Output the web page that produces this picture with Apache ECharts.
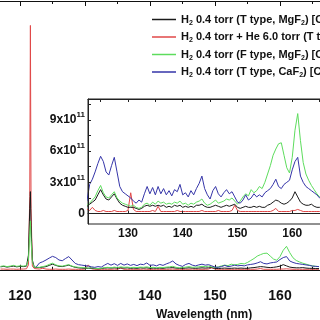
<!DOCTYPE html>
<html>
<head>
<meta charset="utf-8">
<script src="https://cdn.jsdelivr.net/npm/echarts@6/dist/echarts.min.js"></script>
<style>
  html, body { margin: 0; padding: 0; background: #fff; }
  #chart { width: 320px; height: 320px; }
</style>
</head>
<body>
<div id="chart"></div>
<script>
// wavelength grid (nm), extra points around the Lyman-alpha line
const wl = [117, 117.5, 118, 118.5, 119, 119.5, 120, 120.5, 121, 121.3, 121.5, 121.6, 121.7, 121.9, 122.2, 122.5,
  123, 123.5, 124, 124.5, 125, 125.5, 126, 126.5, 127, 127.5,
  128, 128.5, 129, 129.5, 130, 130.5, 131, 131.5, 132, 132.5,
  133, 133.5, 134, 134.5, 135, 135.5, 136, 136.5, 137, 137.5,
  138, 138.5, 139, 139.5, 140, 140.5, 141, 141.5, 142, 142.5,
  143, 143.5, 144, 144.5, 145, 145.5, 146, 146.5, 147, 147.5,
  148, 148.5, 149, 149.5, 150, 150.5, 151, 151.5, 152, 152.5,
  153, 153.5, 154, 154.5, 155, 155.5, 156, 156.5, 157, 157.5,
  158, 158.5, 159, 159.5, 160, 160.5, 161, 161.5, 162, 162.5,
  163, 163.5, 164, 164.5, 165, 165.5, 166]

// intensities in units of 1e11
const h2TMgF2 = [1.2, 1.4, 1.1, 1.3, 1.5, 1.2, 1.4, 1.3, 1.5, 6, 25, 32, 18, 4, 1.0, 0.7,
  0.9, 1.1, 1.3, 1.8, 2.3, 1.8, 1.4, 1.3, 1.6, 1.9,
  1.4, 1.0, 0.8, 0.7, 0.6, 0.6, 0.6, 0.5, 0.4, 0.5,
  0.7, 0.8, 0.7, 0.8, 0.7, 0.8, 0.7, 0.8, 0.6, 0.7,
  0.6, 0.8, 0.7, 0.8, 0.6, 0.7, 0.6, 0.7, 0.6, 0.8,
  0.8, 0.9, 0.7, 0.6, 0.6, 0.7, 0.8, 0.7, 0.6, 0.7,
  0.8, 0.7, 0.8, 0.9, 0.6, 0.5, 0.6, 0.7, 0.6, 0.6,
  0.7, 0.6, 0.7, 0.6, 0.6, 0.8, 0.9, 1.1, 1.3, 1.2,
  1.0, 0.9, 1.0, 1.2, 1.5, 2.1, 1.6, 1.1, 0.9, 0.8,
  0.8, 0.9, 0.7, 0.6, 0.6, 0.5, 0.5]
const h2He = [0.3, 0.3, 0.2, 0.3, 0.3, 0.2, 0.3, 0.3, 0.4, 2, 30, 100, 25, 1.5, 0.5, 0.4,
  0.3, 0.6, 0.3, 0.2, 0.2, 0.3, 0.2, 0.2, 0.2, 0.3,
  0.2, 0.2, 0.2, 0.2, 0.3, 2.0, 0.4, 0.2, 0.2, 0.2,
  0.2, 0.2, 0.2, 0.3, 0.2, 0.7, 0.2, 0.2, 0.2, 0.2,
  0.2, 0.2, 0.3, 0.2, 0.2, 0.2, 0.2, 0.2, 0.2, 0.2,
  0.2, 0.3, 0.2, 0.2, 0.2, 0.2, 0.2, 0.3, 0.2, 0.2,
  0.2, 0.2, 0.3, 0.8, 0.3, 0.2, 0.2, 0.2, 0.2, 0.2,
  0.2, 0.2, 0.2, 0.2, 0.2, 0.2, 0.2, 0.3, 0.5, 0.2,
  0.2, 0.2, 0.2, 0.2, 0.3, 0.3, 0.4, 0.3, 0.2, 0.2,
  0.2, 0.2, 0.2, 0.2, 0.2, 0.2, 0.2]
const h2FMgF2 = [1.4, 1.6, 1.3, 1.5, 1.8, 1.4, 1.6, 1.5, 1.7, 4, 15, 20, 12, 3, 1.1, 0.8,
  1.0, 1.3, 1.6, 2.2, 2.7, 2.0, 1.6, 1.5, 1.8, 2.1,
  1.5, 1.2, 1.0, 0.9, 0.8, 0.7, 0.8, 0.6, 0.5, 0.6,
  0.9, 1.0, 0.8, 1.1, 0.9, 1.2, 1.0, 1.1, 0.9, 1.0,
  0.9, 1.1, 1.0, 1.2, 0.9, 1.0, 0.8, 1.0, 0.9, 1.1,
  1.2, 1.4, 1.0, 0.8, 0.9, 1.1, 1.3, 1.0, 1.1, 1.2,
  1.4, 1.3, 1.5, 1.2, 0.9, 1.2, 1.6, 1.9, 1.7, 2.3,
  2.0, 2.2, 2.6, 2.4, 3.0, 3.8, 4.6, 5.6, 6.2, 6.7,
  6.8, 5.6, 4.4, 3.9, 5.4, 8.0, 9.6, 7.0, 4.9, 3.8,
  3.2, 2.7, 2.3, 1.9, 1.6, 1.4, 1.3]
const h2TCaF2 = [null, null, null, null, null, null, null, null, null, null, null, null, null, null, null, 1.2,
  2.8, 3.3, 4.0, 4.8, 5.5, 5.0, 4.0, 3.7, 4.6, 5.4,
  4.0, 2.6, 2.1, 1.9, 1.7, 1.5, 1.2, 1.0, 1.3, 1.1,
  1.9, 2.6, 1.9, 2.5, 1.8, 2.6, 1.9, 2.4, 1.8, 2.2,
  1.7, 2.3, 2.1, 2.8, 1.8, 2.0, 1.6, 2.2, 1.8, 2.4,
  2.9, 3.6, 2.4, 1.8, 1.4, 2.2, 2.6, 1.9, 1.6, 2.0,
  2.3, 1.9, 2.1, 1.6, 1.1, 1.0, 1.3, 1.8, 1.3, 1.5,
  1.9, 1.6, 1.8, 1.6, 2.0, 2.2, 2.4, 2.8, 3.3, 2.6,
  2.4, 2.8, 3.0, 3.2, 4.2, 5.0, 5.4, 3.6, 3.0, 2.6,
  2.4, 2.2, 2.0, 1.8, 1.5, 1.4, 1.3]

const names = [
  'H2 0.4 torr (T type, MgF2) [C-1]',
  'H2 0.4 torr + He 6.0 torr (T type, MgF2) [C-1]',
  'H2 0.4 torr (F type, MgF2) [C-1]',
  'H2 0.4 torr (T type, CaF2) [C-1]'
]
const legendText = [
  '{b|H}{s|2}{b| 0.4 torr (T type, MgF}{s|2}{b|) [C-1]}',
  '{b|H}{s|2}{b| 0.4 torr + He 6.0 torr (T type, MgF}{s|2}{b|)}',
  '{b|H}{s|2}{b| 0.4 torr (F type, MgF}{s|2}{b|) [C-1]}',
  '{b|H}{s|2}{b| 0.4 torr (T type, CaF}{s|2}{b|) [C-1]}'
]
const colors = ['#1a1a1a', '#e04848', '#5ddc5d', '#3535a8']
const values = [h2TMgF2, h2He, h2FMgF2, h2TCaF2]

const insetXTicks = [130, 140, 150, 160]
const insetYTicks = [0, 3, 6, 9]

const font = 'Liberation Sans, Arial, sans-serif'

function pairs(vals) {
  const out = []
  for (let i = 0; i < wl.length; i++) {
    if (vals[i] !== null) out.push([wl[i], vals[i]])
  }
  return out
}

const drawOrder = [1, 0, 2, 3]
const series = []
drawOrder.forEach(function(k) {
  series.push({
    name: names[k], type: 'line', xAxisIndex: 0, yAxisIndex: 0,
    data: pairs(values[k]), symbol: 'none', z: 2,
    lineStyle: { color: colors[k], width: 1 }, itemStyle: { color: colors[k] }
  })
})
drawOrder.forEach(function(k) {
  series.push({
    name: names[k], type: 'line', xAxisIndex: 2, yAxisIndex: 1,
    data: pairs(values[k]), symbol: 'none', z: 8,
    lineStyle: { color: colors[k], width: 1 }, itemStyle: { color: colors[k] }
  })
})

const chart = echarts.init(document.getElementById('chart'))
chart.setOption({
  animation: false,
  backgroundColor: '#fff',
  textStyle: { fontFamily: font },
  title: {
    text: 'Wavelength (nm)', left: 151, top: 304,
    textStyle: { fontFamily: font, fontSize: 12, fontWeight: 'bold', color: '#111' }
  },
  legend: {
    data: names, orient: 'vertical', left: 147, top: 9,
    icon: 'rect', itemWidth: 24, itemHeight: 1.5, itemGap: 5,
    formatter: function(name) { return legendText[names.indexOf(name)] },
    textStyle: {
      rich: {
        b: { fontFamily: font, fontSize: 11, fontWeight: 'bold', color: '#111', lineHeight: 14 },
        s: { fontFamily: font, fontSize: 7, fontWeight: 'bold', color: '#111', lineHeight: 7, verticalAlign: 'bottom' }
      }
    }
  },
  grid: [
    { left: -45, right: -25, top: 1, bottom: 38, outerBoundsMode: 'none', containLabel: false },
    { left: 88, right: -27, top: 99, bottom: 96, show: true, backgroundColor: '#fff',
      borderColor: '#222', borderWidth: 1, z: 5, outerBoundsMode: 'none', containLabel: false }
  ],
  xAxis: [
    { type: 'value', gridIndex: 0, min: 110, max: 170, interval: 10,
      axisLine: { lineStyle: { color: '#111', width: 1 } },
      axisTick: { inside: true, length: 5, lineStyle: { color: '#111' } },
      minorTick: { show: true, splitNumber: 2, length: 3, lineStyle: { color: '#111' } },
      axisLabel: { fontSize: 14, fontWeight: 'bold', color: '#111', margin: 7 },
      splitLine: { show: false } },
    { type: 'value', gridIndex: 0, position: 'top', min: 110, max: 170, interval: 10,
      axisLine: { lineStyle: { color: '#111', width: 1 } },
      axisTick: { inside: true, length: 5, lineStyle: { color: '#111' } },
      minorTick: { show: true, splitNumber: 2, length: 3, lineStyle: { color: '#111' } },
      axisLabel: { show: false }, splitLine: { show: false } },
    { type: 'value', gridIndex: 1, min: 122.7, max: 170, z: 9,
      axisLine: { lineStyle: { color: '#222' } },
      axisTick: { inside: true, length: 3, customValues: insetXTicks, lineStyle: { color: '#222' } },
      axisLabel: { customValues: insetXTicks, fontSize: 12, fontWeight: 'bold', color: '#111', margin: 4 },
      splitLine: { show: false } },
    { type: 'value', gridIndex: 1, min: 122.7, max: 170, z: 9,
      axisLine: { show: false },
      axisTick: { inside: true, length: 2, customValues: [125, 135, 145, 155, 165], lineStyle: { color: '#222' } },
      axisLabel: { show: false }, splitLine: { show: false } },
    { type: 'value', gridIndex: 1, position: 'top', min: 122.7, max: 170, z: 9,
      axisLine: { lineStyle: { color: '#222' } },
      axisTick: { inside: true, length: 3, customValues: [125, 130, 135, 140, 145, 150, 155, 160, 165], lineStyle: { color: '#222' } },
      axisLabel: { show: false }, splitLine: { show: false } }
  ],
  yAxis: [
    { type: 'value', gridIndex: 0, min: -5, max: 110, show: false },
    { type: 'value', gridIndex: 1, min: -1, max: 11, z: 9,
      axisLine: { show: true, lineStyle: { color: '#222' } },
      axisTick: { show: true, inside: true, length: 3, customValues: [0, 1.5, 3, 4.5, 6, 7.5, 9, 10.5], lineStyle: { color: '#222' } },
      axisLabel: {
        customValues: insetYTicks, margin: 3,
        formatter: function(v) { return v === 0 ? '{b|0}' : '{b|' + v + 'x10}{s|11}' },
        rich: {
          b: { fontFamily: font, fontSize: 12, fontWeight: 'bold', color: '#111', lineHeight: 18 },
          s: { fontFamily: font, fontSize: 8, fontWeight: 'bold', color: '#111', lineHeight: 9, verticalAlign: 'top' }
        }
      },
      splitLine: { show: false } }
  ],
  series: series
})
</script>
</body>
</html>
